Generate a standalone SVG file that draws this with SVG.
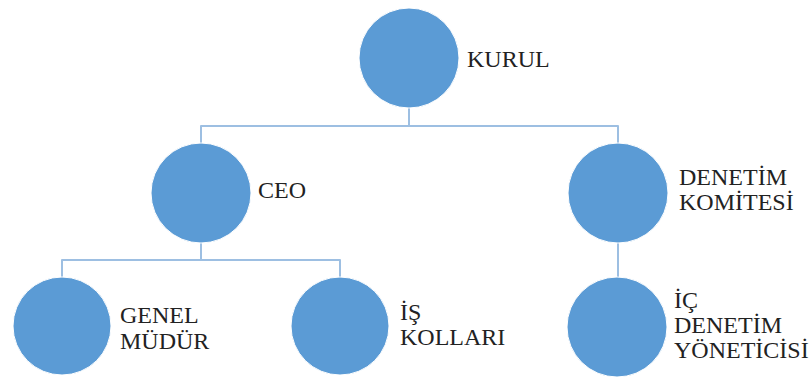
<svg xmlns="http://www.w3.org/2000/svg" width="811" height="378" viewBox="0 0 811 378">
<style>
.n{fill:#5b9bd5;stroke:#ffffff;stroke-width:1}
.c{fill:none;stroke:#9dbfe2;stroke-width:2;stroke-linejoin:round}
.t{font-family:'Liberation Serif','DejaVu Serif',serif;font-size:24px;fill:#222}
</style>
<rect width="811" height="378" fill="#ffffff"/>
<g id="connectors">
<path class="c" d="M409 108V126M201 143V126H618V143"/>
<path class="c" d="M201 243V260M62 277V260H340V277"/>
<path class="c" d="M618 243V277"/>
</g>
<g id="kurul"><circle class="n" cx="409" cy="58" r="50"/><text class="t" x="467" y="67">KURUL</text></g>
<g id="ceo"><circle class="n" cx="201" cy="193" r="50"/><text class="t" x="258" y="198">CEO</text></g>
<g id="denetim-komitesi"><circle class="n" cx="618" cy="193" r="50"/><text class="t" x="679" y="185">DENETİM</text><text class="t" x="679" y="209.5">KOMİTESİ</text></g>
<g id="genel-mudur"><circle class="n" cx="62" cy="326" r="49"/><text class="t" x="120" y="323">GENEL</text><text class="t" x="120" y="348.5">MÜDÜR</text></g>
<g id="is-kollari"><circle class="n" cx="340" cy="326" r="49"/><text class="t" x="400" y="320">İŞ</text><text class="t" x="400" y="345">KOLLARI</text></g>
<g id="ic-denetim"><circle class="n" cx="617" cy="327" r="50"/><text class="t" x="674" y="308">İÇ</text><text class="t" x="674" y="333">DENETİM</text><text class="t" x="674" y="358">YÖNETİCİSİ</text></g>
</svg>
